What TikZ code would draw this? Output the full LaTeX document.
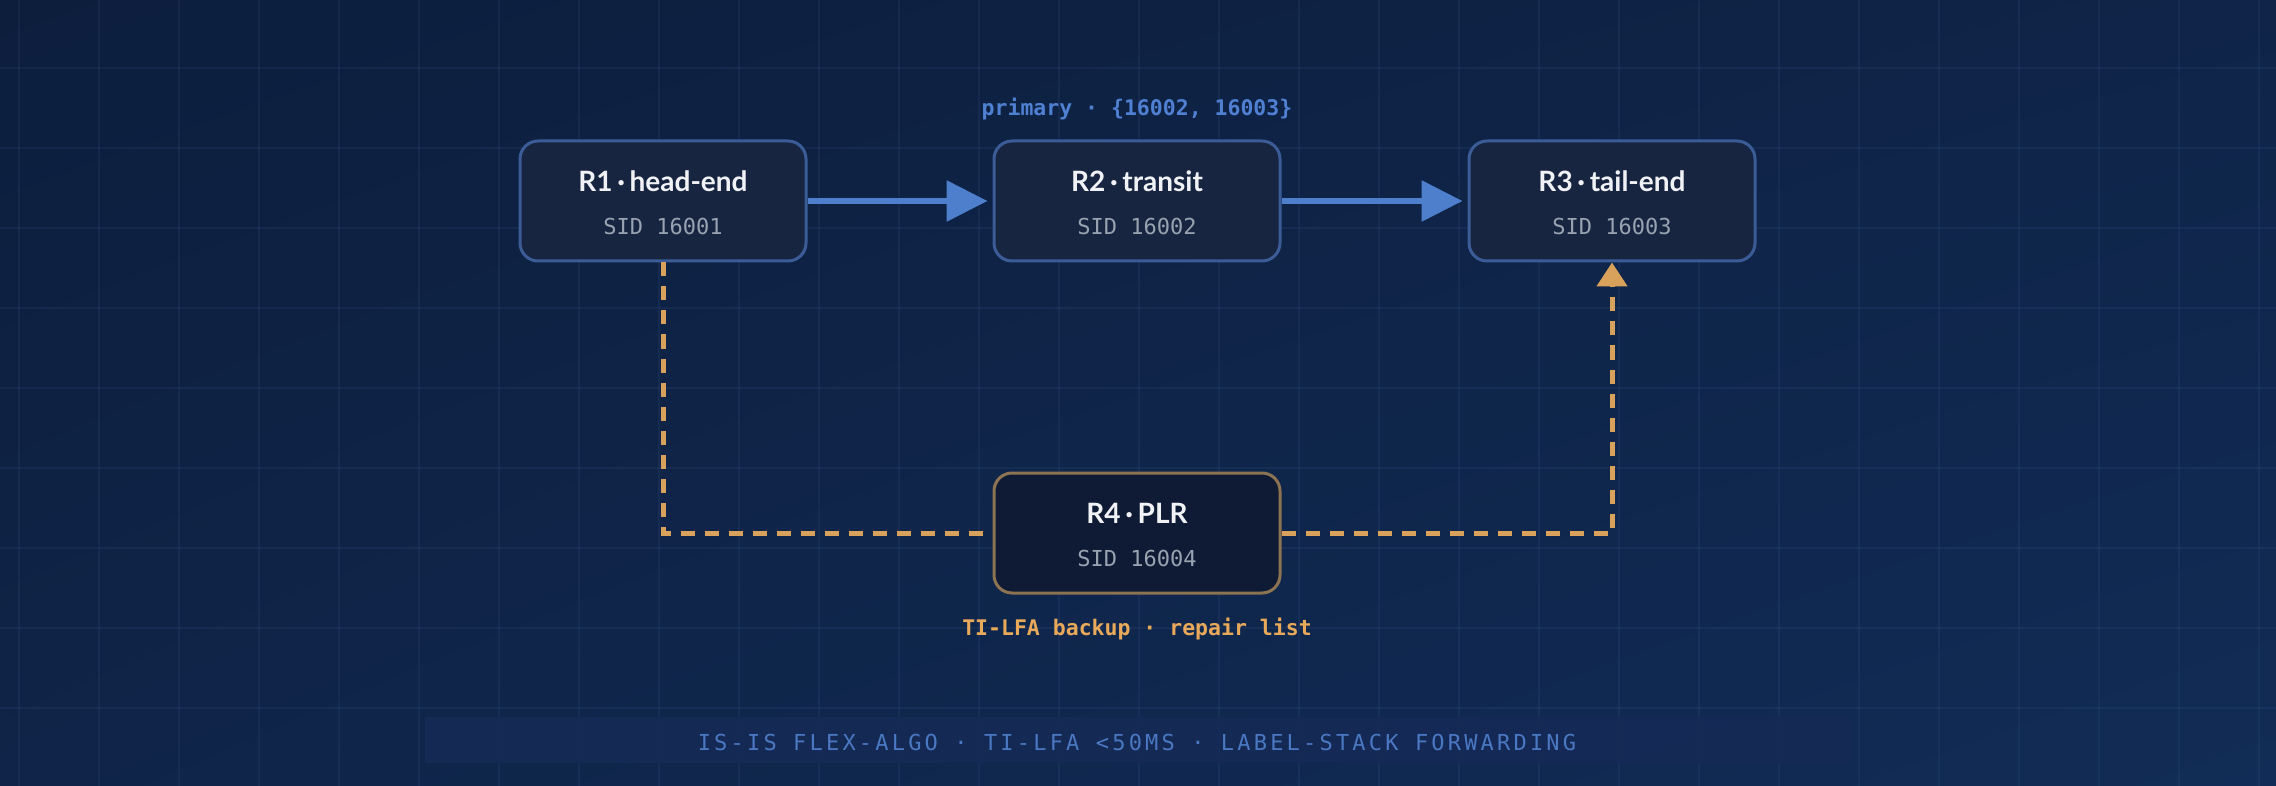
\documentclass[tikz,border=0pt]{standalone}
\usepackage{fontspec}
\setmainfont{Lato}
\newfontfamily\lato{Lato}
\newfontfamily\mono{DejaVu Sans Mono}
\newfontfamily\monols[LetterSpace=14.5]{DejaVu Sans Mono}
\usetikzlibrary{arrows.meta,shadings}
\definecolor{bgA}{HTML}{0D1E3D}
\definecolor{bgB}{HTML}{0F2448}
\definecolor{bgC}{HTML}{112C56}
\definecolor{gridc}{HTML}{6A8FD0}
\definecolor{boxfill}{HTML}{182540}
\definecolor{plrfill}{HTML}{0F1B35}
\definecolor{bordblue}{HTML}{3B5C96}
\definecolor{bordor}{HTML}{8C7352}
\definecolor{titlec}{HTML}{F0F2F5}
\definecolor{sidc}{HTML}{98A2B0}
\definecolor{lineblue}{HTML}{4E7FCC}
\definecolor{lineor}{HTML}{D9A25C}
\definecolor{labblue}{HTML}{4F80D2}
\definecolor{labor}{HTML}{E8A95A}
\definecolor{bannerc}{HTML}{152A56}
\definecolor{bantext}{HTML}{4A78C2}
\begin{document}
\begin{tikzpicture}[x=1pt,y=-1pt,
  router/.style={draw=bordblue, fill=boxfill, line width=3pt, rounded corners=18pt,
    minimum width=286pt, minimum height=120pt, inner sep=0pt},
  plr/.style={router, draw=bordor, fill=plrfill},
  ttl/.style={text=titlec, font=\lato\bfseries\fontsize{28}{33}\selectfont, inner sep=0pt},
  sid/.style={text=sidc, font=\mono\fontsize{22}{26}\selectfont, inner sep=0pt},
  lab/.style={font=\mono\bfseries\fontsize{21.5}{26}\selectfont, inner sep=0pt},
  prim/.style={draw=lineblue, line width=6pt, shorten >=5pt,
    -{Triangle[length=41pt,width=40pt]}},
  backup/.style={draw=lineor, line width=5pt, dash pattern=on 14pt off 10pt},
  gridline/.style={draw=gridc, draw opacity=0.08, line width=1.5pt},
]
\useasboundingbox (0,0) rectangle (2276,786);
\shade[upper left=bgA, upper right=bgB, lower left=bgB, lower right=bgC] (0,0) rectangle (2276,786);
\foreach \x in {19,99,...,2259} \draw[gridline] (\x,0) -- (\x,786);
\foreach \y in {68,148,...,748} \draw[gridline] (0,\y) -- (2276,\y);

% banner
\node[fill=bannerc, fill opacity=0.85, minimum width=1426pt, minimum height=46pt, inner sep=0pt] (banner) at (1138,740) {};
\node[text=bantext, font=\monols\fontsize{22}{26}\selectfont, inner sep=0pt] (bant) at (1137,742)
  {IS-IS FLEX-ALGO · TI-LFA <50MS · LABEL-STACK FORWARDING};

% routers
\node[router] (r1) at (663,201) {};
\node[router] (r2) at (1137,201) {};
\node[router] (r3) at (1612,201) {};
\node[plr] (r4) at (1137,533) {};

\node[ttl] (r1t) at (663,181) {R1\,·\,head-end};
\node[sid] (r1s) at (663,226) {SID 16001};
\node[ttl] (r2t) at (1137,181) {R2\,·\,transit};
\node[sid] (r2s) at (1137,226) {SID 16002};
\node[ttl] (r3t) at (1612,181) {R3\,·\,tail-end};
\node[sid] (r3s) at (1612,226) {SID 16003};
\node[ttl] (r4t) at (1137,513) {R4\,·\,PLR};
\node[sid] (r4s) at (1137,558) {SID 16004};

% connectors
\draw[prim] (r1.east) -- (r2.west);
\draw[prim] (r2.east) -- (r3.west);
\draw[backup] (r1.south) |- (r4.west);
\draw[backup, -{Triangle[length=24pt,width=30pt]}] (r4.east) -| (r3.south);

% labels
\node[lab, text=labblue] (plab) at (1137,109) {primary · \{16002, 16003\}};
\node[lab, text=labor] (blab) at (1137,629) {TI-LFA backup · repair list};
\end{tikzpicture}
\end{document}
